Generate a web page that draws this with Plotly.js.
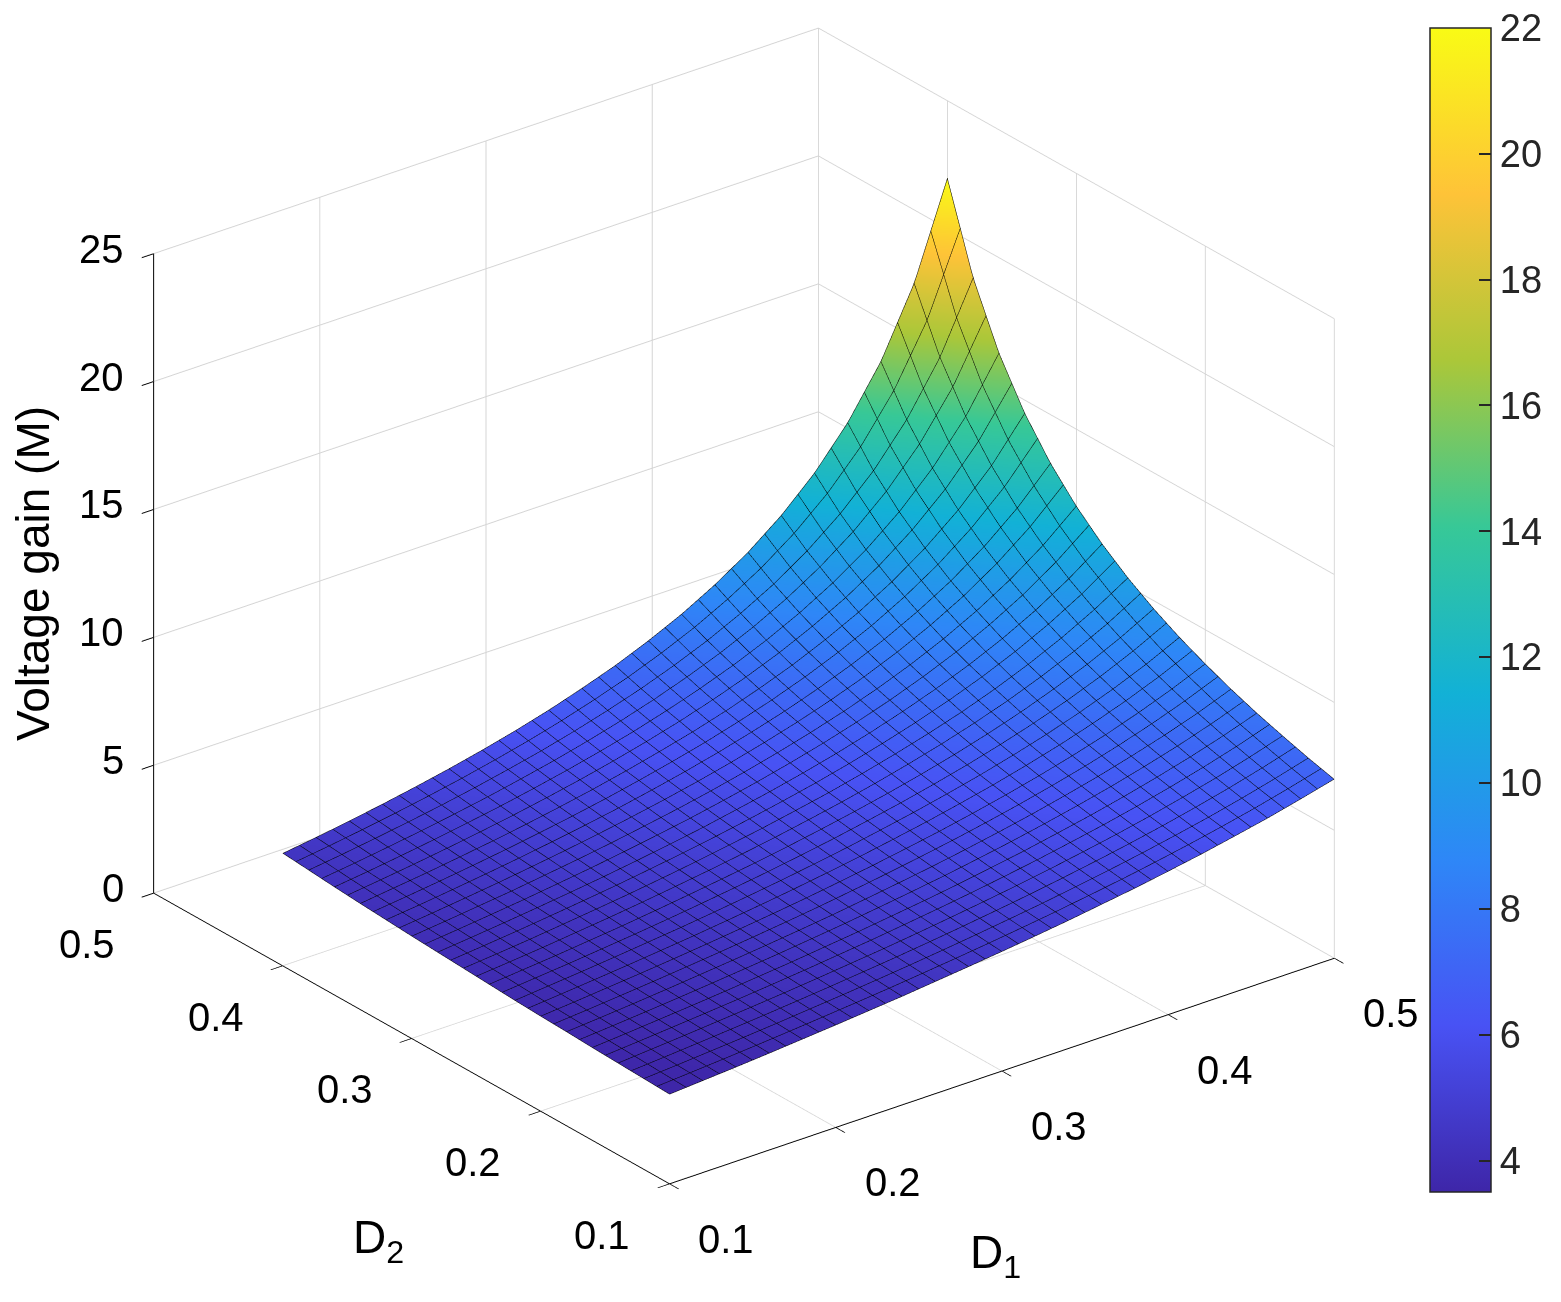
<!DOCTYPE html>
<html><head><meta charset="utf-8">
<script src="https://cdn.plot.ly/plotly-3.0.1.min.js"></script>
<style>html,body{margin:0;padding:0;background:#fff;} #chart{width:1561px;height:1302px;}</style>
</head><body><div id="chart"></div>
<script>
// Duty ratios (axes)
const d1Values = [0.10,0.12,0.14,0.16,0.18,0.20,0.22,0.24,0.26,0.28,0.30,0.32,0.34,0.36,0.38,0.40,0.42,0.44,0.46,0.48,0.50];
const d2Values = [0.10,0.12,0.14,0.16,0.18,0.20,0.22,0.24,0.26,0.28,0.30,0.32,0.34,0.36,0.38,0.40];
// Voltage gain M, rows = D2, columns = D1
const gainM = [
 [3.50,3.59,3.68,3.78,3.89,4.00,4.12,4.24,4.38,4.52,4.67,4.83,5.00,5.19,5.38,5.60,5.83,6.09,6.36,6.67,7.00],
 [3.54,3.63,3.73,3.83,3.94,4.06,4.18,4.31,4.45,4.60,4.76,4.93,5.11,5.31,5.52,5.75,6.00,6.27,6.57,6.90,7.26],
 [3.58,3.68,3.78,3.89,4.00,4.12,4.25,4.39,4.53,4.69,4.86,5.04,5.23,5.44,5.67,5.91,6.18,6.48,6.80,7.16,7.56],
 [3.62,3.72,3.83,3.94,4.06,4.19,4.32,4.47,4.62,4.79,4.96,5.15,5.36,5.58,5.83,6.09,6.38,6.70,7.05,7.44,7.88],
 [3.67,3.77,3.88,4.00,4.13,4.26,4.40,4.55,4.71,4.89,5.08,5.28,5.50,5.74,6.00,6.29,6.60,6.95,7.33,7.76,8.25],
 [3.71,3.82,3.94,4.06,4.19,4.33,4.48,4.64,4.81,5.00,5.20,5.42,5.65,5.91,6.19,6.50,6.84,7.22,7.65,8.13,8.67],
 [3.76,3.88,4.00,4.13,4.27,4.41,4.57,4.74,4.92,5.12,5.33,5.57,5.82,6.10,6.40,6.74,7.11,7.53,8.00,8.53,9.14],
 [3.82,3.94,4.06,4.20,4.34,4.50,4.67,4.85,5.04,5.25,5.48,5.73,6.00,6.30,6.63,7.00,7.41,7.88,8.40,9.00,9.69],
 [3.88,4.00,4.13,4.28,4.43,4.59,4.77,4.96,5.17,5.39,5.64,5.90,6.20,6.53,6.89,7.29,7.75,8.27,8.86,9.54,10.33],
 [3.94,4.07,4.21,4.36,4.52,4.69,4.88,5.08,5.30,5.55,5.81,6.10,6.42,6.78,7.18,7.63,8.13,8.71,9.38,10.17,11.09],
 [4.00,4.14,4.29,4.44,4.62,4.80,5.00,5.22,5.45,5.71,6.00,6.32,6.67,7.06,7.50,8.00,8.57,9.23,10.00,10.91,12.00],
 [4.07,4.21,4.37,4.54,4.72,4.92,5.13,5.36,5.62,5.90,6.21,6.56,6.94,7.38,7.87,8.43,9.08,9.83,10.73,11.80,13.11],
 [4.14,4.30,4.46,4.64,4.83,5.04,5.27,5.52,5.80,6.11,6.44,6.82,7.25,7.73,8.29,8.92,9.67,10.55,11.60,12.89,14.50],
 [4.22,4.38,4.56,4.75,4.96,5.18,5.43,5.70,6.00,6.33,6.71,7.13,7.60,8.14,8.77,9.50,10.36,11.40,12.67,14.25,16.29],
 [4.31,4.48,4.67,4.87,5.09,5.33,5.60,5.89,6.22,6.59,7.00,7.47,8.00,8.62,9.33,10.18,11.20,12.44,14.00,16.00,18.67],
 [4.40,4.58,4.78,5.00,5.24,5.50,5.79,6.11,6.47,6.88,7.33,7.86,8.46,9.17,10.00,11.00,12.22,13.75,15.71,18.33,22.00]
];
const dTickVals = [0.1,0.2,0.3,0.4,0.5];
const dTickText = ['0.1','0.2','0.3','0.4','0.5'];
const zTickVals = [0,5,10,15,20,25];
const zTickText = ['0','5','10','15','20','25'];
const cbTickVals = [4,6,8,10,12,14,16,18,20,22];
const cbTickText = ['4','6','8','10','12','14','16','18','20','22'];
const xTitle = 'D<sub>1</sub>';
const yTitle = 'D<sub>2</sub>';
const zTitle = 'Voltage gain (M)';
const parula = [
 [0,'rgb(62,38,168)'],[0.1429,'rgb(72,82,244)'],[0.2857,'rgb(46,135,247)'],
 [0.4286,'rgb(18,177,214)'],[0.5714,'rgb(55,200,151)'],[0.7143,'rgb(171,199,57)'],
 [0.8571,'rgb(254,195,56)'],[1,'rgb(249,251,21)']
];

const FONT = 'Arial, Liberation Sans, sans-serif';
const xMin = 0.1, yMin = 0.1, yMax = 0.5;

const trace = {
  type: 'surface',
  x: d1Values, y: d2Values, z: gainM,
  colorscale: parula, cmin: 3.5, cmax: 22,
  lighting: {ambient: 1, diffuse: 0, specular: 0, roughness: 1, fresnel: 0},
  hoverinfo: 'skip',
  contours: {
    x: {show: true, start: 0.1001, end: 0.49995, size: 0.009995, color: 'black', width: 4, highlight: false},
    y: {show: true, start: 0.1001, end: 0.39995, size: 0.009993, color: 'black', width: 4, highlight: false},
    z: {show: false, highlight: false}
  },
  colorbar: {
    x: 0.916, xanchor: 'left', xpad: 0,
    y: 0.5315, yanchor: 'middle', ypad: 0,
    len: 1164, lenmode: 'pixels',
    thickness: 61, thicknessmode: 'pixels',
    outlinecolor: '#262626', outlinewidth: 1.5,
    ticks: 'inside', ticklen: 12, tickwidth: 1.5, tickcolor: '#262626',
    tickvals: cbTickVals, ticktext: cbTickText,
    tickfont: {family: FONT, size: 38, color: '#262626'}
  }
};

const axisCommon = {
  showbackground: false,
  showgrid: true, gridcolor: 'rgb(212,212,212)', gridwidth: 2,
  zeroline: false,
  showline: true, linecolor: 'black', linewidth: 2,
  ticks: 'outside', ticklen: 15, tickwidth: 2, tickcolor: 'black',
  showticklabels: false,
  showspikes: false,
  title: {text: ''}
};

// tick labels and titles as scene annotations placed through the scene's own axes
const ann = [];
dTickVals.forEach(function(v, i){
  ann.push({x: v, y: yMin, z: 0, text: dTickText[i], showarrow: false, xshift: 57, yshift: -55,
            font: {family: FONT, size: 40, color: 'black'}});
  ann.push({x: xMin, y: v, z: 0, text: dTickText[i], showarrow: false, xshift: -67, yshift: -51,
            font: {family: FONT, size: 40, color: 'black'}});
});
zTickVals.forEach(function(v, i){
  ann.push({x: xMin, y: yMax, z: v, text: zTickText[i], showarrow: false, xanchor: 'right', xshift: -28, yshift: 5,
            font: {family: FONT, size: 40, color: 'black'}});
});
ann.push({x: 0.3, y: yMin, z: 0, text: xTitle, showarrow: false, xshift: -6, yshift: -185,
          font: {family: FONT, size: 46, color: 'black'}});
ann.push({x: xMin, y: 0.3, z: 0, text: yTitle, showarrow: false, xshift: -33, yshift: -202,
          font: {family: FONT, size: 46, color: 'black'}});
ann.push({x: xMin, y: yMax, z: 12.5, text: zTitle, showarrow: false, textangle: -90, xshift: -120, yshift: 0,
          font: {family: FONT, size: 46, color: 'black'}});

const S = 1.375;
const layout = {
  width: 1561, height: 1302,
  margin: {l: 0, r: 0, t: 0, b: 0},
  paper_bgcolor: 'white',
  showlegend: false,
  scene: {
    domain: {x: [0, 0.953], y: [0.06, 1.0]},
    aspectmode: 'manual',
    aspectratio: {x: S, y: S, z: 0.845 * S},
    camera: {
      projection: {type: 'orthographic'},
      eye: {x: -0.551 * 2, y: -0.710 * 2, z: 0.437 * 2 - 0.011},
      center: {x: 0, y: 0, z: -0.011},
      up: {x: 0, y: 0, z: 1}
    },
    xaxis: Object.assign({}, axisCommon, {range: [0.1, 0.5], tickvals: dTickVals, ticktext: dTickText}),
    yaxis: Object.assign({}, axisCommon, {range: [0.1, 0.5], tickvals: dTickVals, ticktext: dTickText}),
    zaxis: Object.assign({}, axisCommon, {range: [0, 25], tickvals: zTickVals, ticktext: zTickText}),
    annotations: ann
  }
};

Plotly.newPlot('chart', [trace], layout, {displayModeBar: false});
</script>
</body></html>
